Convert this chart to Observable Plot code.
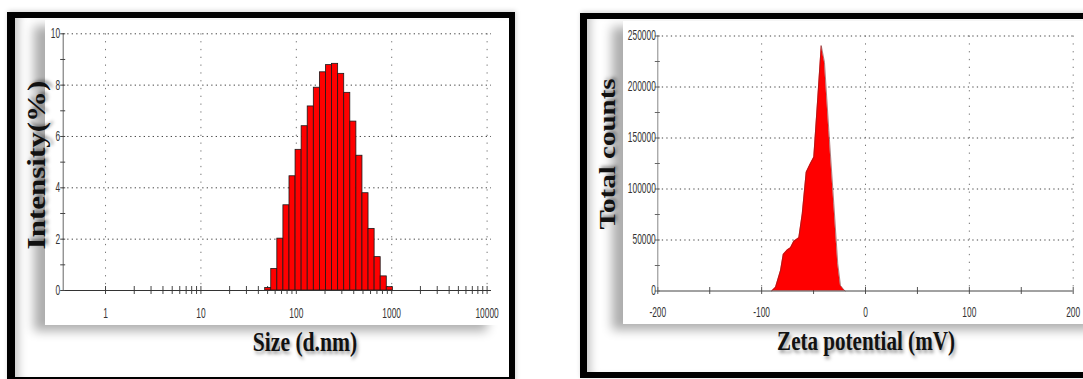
<!DOCTYPE html>
<html>
<head>
<meta charset="utf-8">
<script src="https://cdn.jsdelivr.net/npm/d3@7"></script>
<script src="https://cdn.jsdelivr.net/npm/@observablehq/plot@0.6"></script>
<style>
  html, body { margin: 0; padding: 0; background: #fff; }
  #stage { position: relative; width: 1083px; height: 379px; overflow: hidden; background: #fff; }
  .frame {
    position: absolute; box-sizing: border-box; background: #fff;
    border: 7px solid #000;
    box-shadow: inset 10px 0 9px -6px rgba(0,0,0,0.22), 1px -1px 5px rgba(0,0,0,0.18);
  }
  .card {
    position: absolute; background: #fff;
    box-shadow: -11px 6px 10px rgba(0,0,0,0.32);
  }
  .chart { position: absolute; }
  .chart svg { overflow: visible; background: transparent; max-width: none; }
  .title {
    position: absolute; white-space: nowrap; line-height: 1;
    font-family: "Liberation Serif", "Times New Roman", serif; font-weight: bold; color: #111;
    text-shadow: 2px 3px 4px rgba(0,0,0,0.4);
  }
</style>
</head>
<body>
<div id="stage">
  <div class="frame" style="left:7.3px; top:11.7px; width:507.7px; height:372px; border-left-width:8.3px; border-top-width:6.6px; border-right-width:6.7px;"></div>
  <div class="card" style="left:45px; top:20px; width:453px; height:305px;"></div>
  <div class="chart" id="sizeChart" style="left:22px; top:18px;"></div>
  <div class="title" id="sizeTitle" style="left:305px; top:341.5px; font-size:27px; transform:translate(-50%,-50%) scaleX(0.8);">Size (d.nm)</div>
  <div class="title" id="intensityTitle" style="left:37px; top:165px; font-size:31px; transform:translate(-50%,-50%) scaleX(0.8) rotate(-90deg);">Intensity(%)</div>

  <div class="frame" style="left:580px; top:13.3px; width:520px; height:365px; border-width:6.7px 7px 6.6px 7.3px;"></div>
  <div class="card" style="left:622.7px; top:21px; width:480px; height:302.5px;"></div>
  <div class="chart" id="zetaChart" style="left:600px; top:18px;"></div>
  <div class="title" id="zetaTitle" style="left:866px; top:341px; font-size:27px; transform:translate(-50%,-50%) scaleX(0.78);">Zeta potential (mV)</div>
  <div class="title" id="countsTitle" style="left:607px; top:153.5px; font-size:29px; transform:translate(-50%,-50%) scaleX(0.8) rotate(-90deg);">Total counts</div>
</div>
<script>
// ---- Size distribution by intensity (log size classes, nm) ----
const sizeBinEdges = [47.16, 54.61, 63.24, 73.24, 84.82, 98.23, 113.7, 131.7, 152.6, 176.7, 204.6,
                      237.0, 274.4, 317.8, 368.1, 426.3, 493.6, 571.6, 662.0, 766.6, 887.8, 1028];
const intensityPct = [0.1, 0.84, 2.02, 3.32, 4.45, 5.48, 6.4, 7.17, 7.9, 8.5, 8.78,
                      8.83, 8.44, 7.7, 6.58, 5.25, 3.79, 2.4, 1.3, 0.55, 0.13];
const sizeDomain = [0.36, 11120];
const sizeMajorTicks = [1, 10, 100, 1000, 10000];
const sizeMinorTicks = [2, 3, 4, 5, 6, 7, 8, 9, 20, 30, 40, 50, 60, 70, 80, 90,
                        200, 300, 400, 500, 600, 700, 800, 900, 2000, 3000, 4000, 5000, 6000, 7000, 8000, 9000];
const intensityMajorTicks = [0, 2, 4, 6, 8, 10];
const intensityMinorTicks = [1, 3, 5, 7, 9];

// ---- Zeta potential distribution ----
const zetaMv = [-90.5, -89.2, -86.6, -81.8, -79.2, -75.4, -72.2, -69.0, -64.2, -60.9, -57.1,
                -52.9, -49.8, -45.9, -42.6, -39.5, -35.3, -30.5, -26.7, -24.1, -20.9, -19.5];
const zetaCounts = [0, 1000, 3700, 20000, 35800, 40300, 42300, 48800, 52100, 75600, 116400,
                    125200, 131100, 189900, 240600, 224200, 157300, 85500, 26700, 5400, 1200, 0];
const zetaDomain = [-200, 200];
const zetaMajorTicks = [-200, -100, 0, 100, 200];
const zetaMinorTicks = [-150, -50, 50, 150];
const countsMajorTicks = [0, 50000, 100000, 150000, 200000, 250000];
const countsMinorTicks = [25000, 75000, 125000, 175000, 225000];

const sizeBins = intensityPct.map((v, i) => ({lo: sizeBinEdges[i], hi: sizeBinEdges[i + 1], v}));
const zeta = zetaMv.map((mv, i) => ({mv, c: zetaCounts[i]}));

const tickFont = {fontSize: 14, fill: "#333", fontFamily: "Liberation Sans, Arial, sans-serif"};
const hGrid = {stroke: "#444", strokeOpacity: 1, strokeWidth: 1, strokeDasharray: "1.3,3.2"};
const vGrid = {stroke: "#777", strokeOpacity: 1, strokeWidth: 1, strokeDasharray: "1.3,6.5"};

const sizePlot = Plot.plot({
  width: 480, height: 310,
  marginLeft: 40.7, marginRight: 11, marginTop: 15.3, marginBottom: 38,
  style: {background: "transparent", overflow: "visible"},
  x: {type: "log", domain: sizeDomain},
  y: {domain: [0, 10]},
  marks: [
    Plot.gridY(intensityMajorTicks.filter(d => d > 0), hGrid),
    Plot.gridX(sizeMajorTicks, vGrid),
    Plot.ruleX(sizeMinorTicks.concat(sizeMajorTicks), {x: d => d, y1: 0, y2: 0, insetTop: -4, insetBottom: -4, stroke: "#444"}),
    Plot.rectY(sizeBins, {x1: "lo", x2: "hi", y: "v", fill: "#ff0000", stroke: "#1a1a1a", strokeWidth: 0.8}),
    Plot.ruleY([0], {stroke: "#333"}),
    Plot.ruleX([sizeDomain[0]], {stroke: "#666"}),
    Plot.ruleY(intensityMajorTicks.concat(intensityMinorTicks), {y: d => d, x1: sizeDomain[0], x2: sizeDomain[0], insetLeft: -2.5, insetRight: -2.5, stroke: "#444"}),
    Plot.axisX(sizeMajorTicks, {tickSize: 0, tickPadding: 18, tickFormat: d => String(d), label: null, ...tickFont}),
    Plot.axisY(intensityMajorTicks, {tickSize: 0, tickPadding: 3, tickFormat: d => String(d), label: null, ...tickFont})
  ]
});

const zetaPlot = Plot.plot({
  width: 483, height: 310,
  marginLeft: 57.3, marginRight: 10.3, marginTop: 17.5, marginBottom: 37.5,
  style: {background: "transparent", overflow: "visible"},
  x: {domain: zetaDomain},
  y: {domain: [0, 250000]},
  marks: [
    Plot.gridY(countsMajorTicks.filter(d => d > 0), hGrid),
    Plot.gridX(zetaMajorTicks.filter(d => d > zetaDomain[0]), vGrid),
    Plot.ruleX(zetaMinorTicks.concat(zetaMajorTicks), {x: d => d, y1: 0, y2: 0, insetTop: -3.5, insetBottom: -3.5, stroke: "#555"}),
    Plot.areaY(zeta, {x: "mv", y: "c", fill: "#ff0000"}),
    Plot.lineY(zeta, {x: "mv", y: "c", stroke: "#7a2a2a", strokeWidth: 0.6}),
    Plot.ruleY([0], {stroke: "#444"}),
    Plot.ruleX([zetaDomain[0]], {stroke: "#888"}),
    Plot.ruleY(countsMajorTicks.concat(countsMinorTicks), {y: d => d, x1: zetaDomain[0], x2: zetaDomain[0], insetLeft: -2.5, insetRight: -2.5, stroke: "#666"}),
    Plot.axisX(zetaMajorTicks, {tickSize: 0, tickPadding: 16, tickFormat: d => String(d), label: null, ...tickFont}),
    Plot.axisY(countsMajorTicks, {tickSize: 0, tickPadding: 2, tickFormat: d => String(d), label: null, ...tickFont})
  ]
});

// narrow the tick labels horizontally, keeping each label's anchor in place
function condenseTickLabels(svg, k) {
  d3.select(svg).selectAll("g[aria-label$='tick label'] text").each(function () {
    const x = +(this.getAttribute("x") || 0);
    const t = this.getAttribute("transform") || "";
    this.setAttribute("transform", `${t} translate(${x},0) scale(${k},1) translate(${-x},0)`);
  });
}
condenseTickLabels(sizePlot, 0.6);
condenseTickLabels(zetaPlot, 0.6);

document.getElementById("sizeChart").append(sizePlot);
document.getElementById("zetaChart").append(zetaPlot);
</script>
</body>
</html>
